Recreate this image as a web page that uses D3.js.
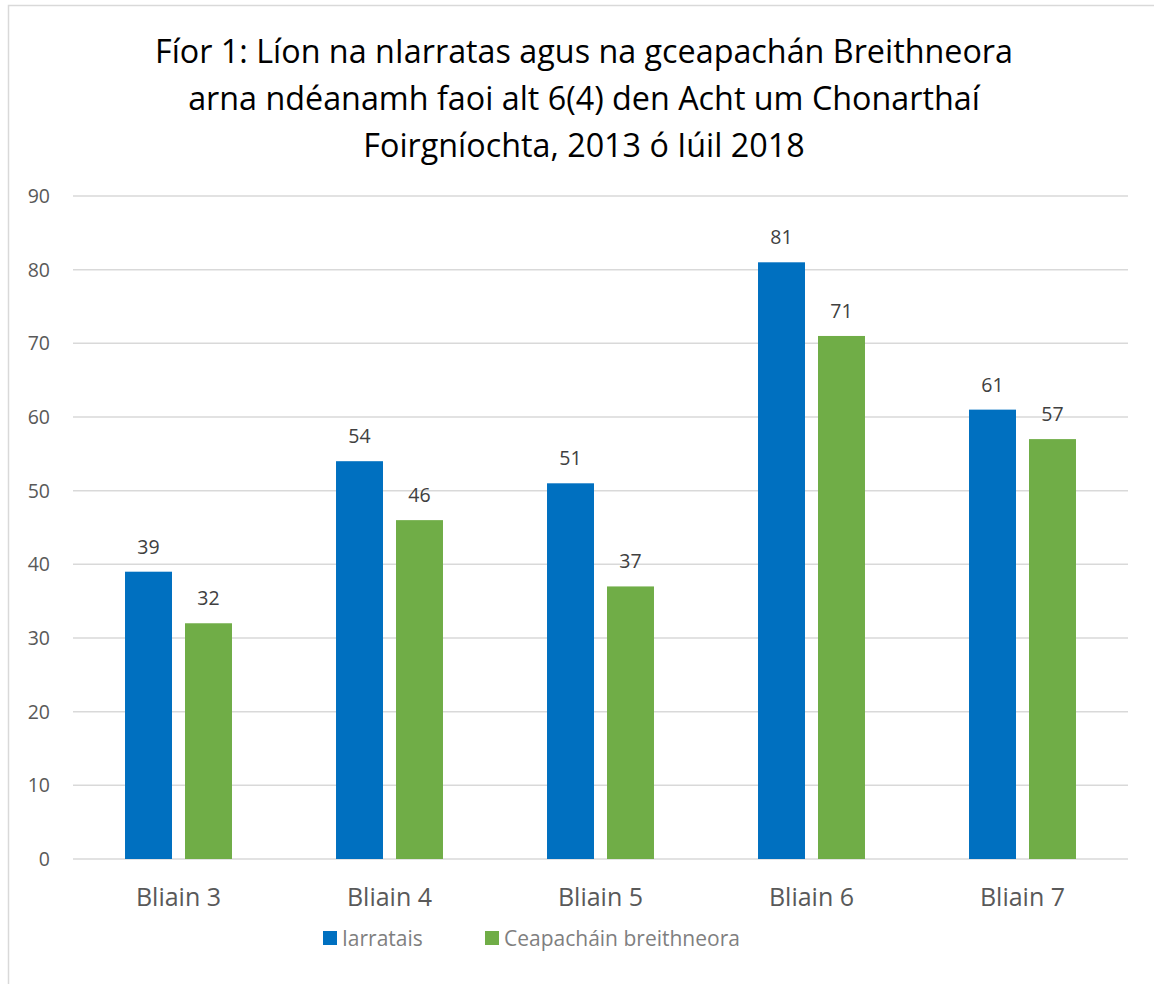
<!DOCTYPE html>
<html>
<head>
<meta charset="utf-8">
<script src="https://cdn.jsdelivr.net/npm/d3@7"></script>
<style>
  body { margin: 0; background: #fff; }
  svg { display: block; font-family: "Open Sans", Lato, sans-serif; }
</style>
</head>
<body>
<div id="chart"></div>
<script>
// Fíor 1 - grouped bar chart
const categories = ['Bliain 3', 'Bliain 4', 'Bliain 5', 'Bliain 6', 'Bliain 7'];
const seriesNames = ['Iarratais', 'Ceapacháin breithneora'];
const iarratais = [39, 54, 51, 81, 61];
const ceapachain = [32, 46, 37, 71, 57];
const yTicks = [0, 10, 20, 30, 40, 50, 60, 70, 80, 90];
const titleLines = [
  'Fíor 1: Líon na nIarratas agus na gceapachán Breithneora',
  'arna ndéanamh faoi alt 6(4) den Acht um Chonarthaí',
  'Foirgníochta, 2013 ó Iúil 2018'
];
const colors = ['#0070C0', '#70AD47'];

const width = 1154;
const height = 984;
const margin = {top: 196, right: 26, bottom: 125, left: 73};
const innerW = width - margin.left - margin.right;
const innerH = height - margin.top - margin.bottom;

const svg = d3.select('#chart')
  .append('svg')
    .attr('width', width)
    .attr('height', height);

// chart frame (runs past the picture edges on right and bottom)
svg.append('rect')
    .attr('x', 8.5)
    .attr('y', 5.5)
    .attr('width', 1200)
    .attr('height', 1200)
    .attr('fill', 'none')
    .attr('stroke', '#d9d9d9')
    .attr('stroke-width', 1.5);

svg.append('g')
  .selectAll('text')
  .data(titleLines)
  .join('text')
    .attr('x', 584)
    .attr('y', (d, i) => 63 + i * 47)
    .attr('text-anchor', 'middle')
    .attr('font-size', 32.3)
    .attr('fill', '#000')
    .text(d => d);

const g = svg.append('g')
    .attr('transform', `translate(${margin.left},${margin.top})`);

const x0 = d3.scaleBand()
    .domain(categories)
    .range([0, innerW]);

const x1 = d3.scaleBand()
    .domain(seriesNames)
    .range([0, x0.bandwidth()])
    .paddingInner(0.217)
    .paddingOuter(0.867);

const y = d3.scaleLinear()
    .domain([0, 90])
    .range([innerH, 0]);

// gridlines
g.append('g')
  .selectAll('line')
  .data(yTicks)
  .join('line')
    .attr('x1', 0)
    .attr('x2', innerW)
    .attr('y1', d => y(d))
    .attr('y2', d => y(d))
    .attr('stroke', '#d9d9d9')
    .attr('stroke-width', 1.5);

// y labels
g.append('g')
  .selectAll('text')
  .data(yTicks)
  .join('text')
    .attr('x', -23)
    .attr('y', d => y(d) + 7)
    .attr('text-anchor', 'end')
    .attr('font-size', 19.5)
    .attr('fill', '#595959')
    .text(d => d);

const rows = categories.map((c, i) => ({
  cat: c,
  values: [iarratais[i], ceapachain[i]].map((v, j) => ({key: seriesNames[j], value: v, idx: j}))
}));

const groups = g.append('g')
  .selectAll('g')
  .data(rows)
  .join('g')
    .attr('transform', d => `translate(${x0(d.cat)},0)`);

groups.selectAll('rect')
  .data(d => d.values)
  .join('rect')
    .attr('x', d => x1(d.key))
    .attr('y', d => y(d.value))
    .attr('width', x1.bandwidth())
    .attr('height', d => innerH - y(d.value))
    .attr('fill', d => colors[d.idx]);

groups.selectAll('.val')
  .data(d => d.values)
  .join('text')
    .attr('class', 'val')
    .attr('x', d => x1(d.key) + x1.bandwidth() / 2)
    .attr('y', d => y(d.value) - 18)
    .attr('text-anchor', 'middle')
    .attr('font-size', 19.5)
    .attr('fill', '#404040')
    .text(d => d.value);

// x labels
g.append('g')
  .selectAll('text')
  .data(categories)
  .join('text')
    .attr('x', d => x0(d) + x0.bandwidth() / 2)
    .attr('y', innerH + 47)
    .attr('text-anchor', 'middle')
    .attr('font-size', 25)
    .attr('fill', '#595959')
    .text(d => d);

// legend
const legendX = [323, 485];
const legend = svg.append('g')
  .selectAll('g')
  .data(seriesNames)
  .join('g')
    .attr('transform', (d, i) => `translate(${legendX[i]},931)`);

legend.append('rect')
    .attr('width', 14)
    .attr('height', 14)
    .attr('fill', (d, i) => colors[i]);

legend.append('text')
    .attr('x', 19)
    .attr('y', 15)
    .attr('font-size', 21)
    .attr('fill', '#7f7f7f')
    .text(d => d);
</script>
</body>
</html>
